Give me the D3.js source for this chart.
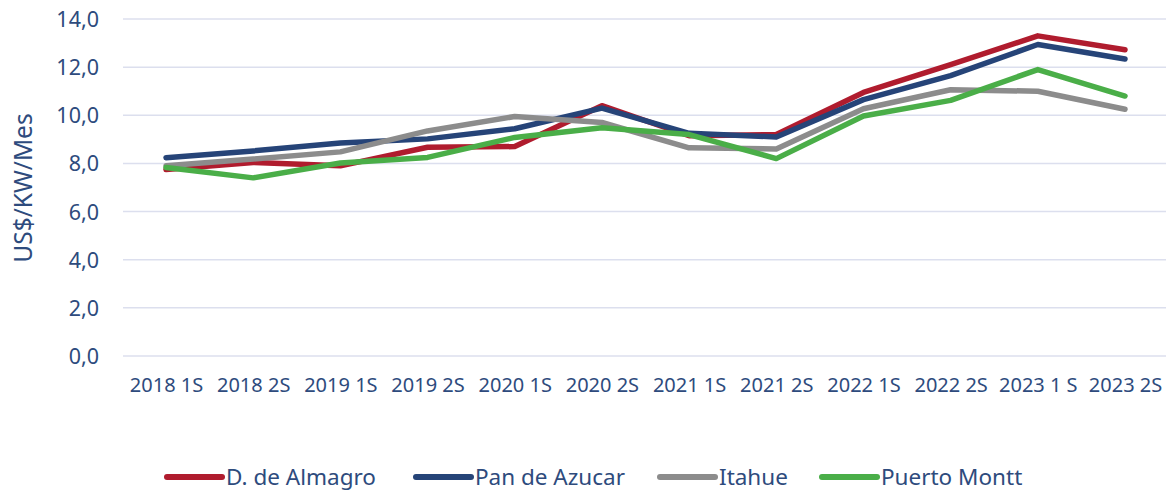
<!DOCTYPE html>
<meta charset="utf-8">
<html>
<head>
  <script src="https://d3js.org/d3.v7.min.js"></script>
  <style>
    body { margin: 0; background: #fff; }
    text { font-family: "Noto Sans", sans-serif; fill: #2e4b7d; }
  </style>
</head>
<body>
  <svg></svg>
  <script>
    // data
    var periods = ['2018 1S', '2018 2S', '2019 1S', '2019 2S', '2020 1S', '2020 2S',
                   '2021 1S', '2021 2S', '2022 1S', '2022 2S', '2023 1 S', '2023 2S']
    var almagro  = [7.75, 8.04, 7.9, 8.67, 8.7, 10.4, 9.15, 9.2, 10.95, 12.1, 13.3, 12.72]
    var azucar   = [8.24, 8.52, 8.85, 9.02, 9.44, 10.3, 9.25, 9.1, 10.65, 11.65, 12.94, 12.34]
    var itahue   = [7.9, 8.18, 8.48, 9.35, 9.95, 9.7, 8.65, 8.6, 10.27, 11.06, 11.0, 10.25]
    var montt    = [7.83, 7.4, 8.02, 8.25, 9.08, 9.48, 9.2, 8.2, 9.97, 10.62, 11.9, 10.8]
    var seriesNames = ['D. de Almagro', 'Pan de Azucar', 'Itahue', 'Puerto Montt']
    var seriesColors = ['#b01c2e', '#264478', '#8c8c8c', '#4aae48']
    var yTicks = [0, 2, 4, 6, 8, 10, 12, 14]

    var width = 1167, height = 491
    var svg = d3.select('svg').attr('width', width).attr('height', height)

    var x = d3.scalePoint().domain(periods).range([166, 1125])
    var y = d3.scaleLinear().domain([0, 14]).range([356, 19])

    // gridlines
    svg.append('g').selectAll('line')
      .data(yTicks).enter().append('line')
      .attr('x1', 123).attr('x2', 1166)
      .attr('y1', d => y(d)).attr('y2', d => y(d))
      .attr('stroke', '#dcdfee').attr('stroke-width', 1.5)

    // y axis labels
    var yAxis = svg.append('g').attr('transform', 'translate(99,0)')
      .call(d3.axisLeft(y).tickValues(yTicks).tickSize(0).tickPadding(0)
        .tickFormat(d => d3.format('.1f')(d).replace('.', ',')))
    yAxis.select('.domain').remove()
    yAxis.selectAll('text').attr('font-size', 21.5).attr('dy', '0.35em')
      .style('font-family', '"Noto Sans", sans-serif').attr('fill', '#2e4b7d')

    // x axis labels
    var xAxis = svg.append('g').attr('transform', 'translate(0,385)')
      .call(d3.axisBottom(x).tickSize(0).tickPadding(0))
    xAxis.select('.domain').remove()
    xAxis.selectAll('text').attr('font-size', 20).attr('y', 0).attr('dy', '0.35em')
      .style('font-family', '"Noto Sans", sans-serif').attr('fill', '#2e4b7d')

    // y axis title
    svg.append('text')
      .attr('transform', 'translate(23,188) rotate(-90)')
      .attr('text-anchor', 'middle')
      .attr('dy', '0.35em')
      .attr('font-size', 24.5)
      .text('US$/KW/Mes')

    var allSeries = [almagro, azucar, itahue, montt]
    var line = d3.line().x((d, i) => x(periods[i])).y(d => y(d))

    svg.append('g').selectAll('path')
      .data(allSeries).enter().append('path')
      .attr('d', line)
      .attr('fill', 'none')
      .attr('stroke', (d, i) => seriesColors[i])
      .attr('stroke-width', 5.5)
      .attr('stroke-linecap', 'round')
      .attr('stroke-linejoin', 'round')

    // legend
    var legendX = [167, 416, 660, 822]
    var legend = svg.append('g').selectAll('g')
      .data(seriesNames).enter().append('g')
      .attr('transform', (d, i) => 'translate(' + legendX[i] + ',477)')
    legend.append('line')
      .attr('x1', 0).attr('x2', 55)
      .attr('stroke', (d, i) => seriesColors[i])
      .attr('stroke-width', 6)
      .attr('stroke-linecap', 'round')
    legend.append('text')
      .attr('x', 59).attr('dy', '0.35em')
      .attr('font-size', 22.5)
      .text(d => d)
  </script>
</body>
</html>
